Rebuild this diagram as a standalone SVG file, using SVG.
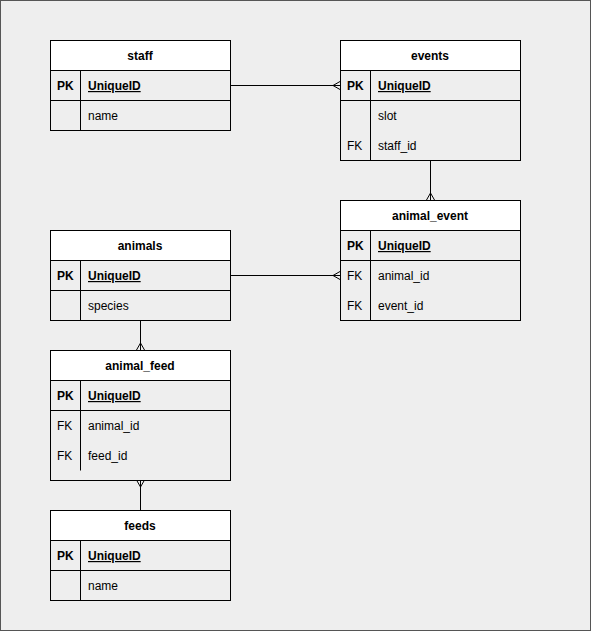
<svg xmlns="http://www.w3.org/2000/svg" width="591" height="631" viewBox="0 0 591 631">
<style>
.box{fill:none;stroke:#000;stroke-width:1}
.hdr{fill:#fff;stroke:#000;stroke-width:1}
.ln{stroke:#000;stroke-width:1;fill:none}
text{font-family:"Liberation Sans",Arial,sans-serif;font-size:12px;fill:#000}
.t{font-weight:bold;text-anchor:middle}
.b{font-weight:bold}
.u{font-weight:bold;text-decoration:underline}
</style>
<defs>
<marker id="many" viewBox="0 0 10 10" refX="10" refY="5" markerWidth="10" markerHeight="10" markerUnits="userSpaceOnUse" orient="auto">
<path d="M10,1 L3,5 L10,9" fill="none" stroke="#000" stroke-width="1"/>
</marker>
</defs>
<rect x="0.5" y="0.5" width="590" height="630" fill="#eeeeee" stroke="#555" stroke-width="1"/>
<g id="connectors">
<line class="ln" x1="230" y1="85.5" x2="340" y2="85.5" marker-end="url(#many)"/>
<line class="ln" x1="430.5" y1="160" x2="430.5" y2="200" marker-end="url(#many)"/>
<line class="ln" x1="230" y1="275.5" x2="340" y2="275.5" marker-end="url(#many)"/>
<line class="ln" x1="140.5" y1="320" x2="140.5" y2="350" marker-end="url(#many)"/>
<line class="ln" x1="140.5" y1="510" x2="140.5" y2="480" marker-end="url(#many)"/>
</g>
<g id="staff">
<rect class="hdr" x="50.5" y="40.5" width="180" height="30"/>
<rect class="box" x="50.5" y="40.5" width="180" height="90"/>
<line class="ln" x1="50.5" y1="100.5" x2="230.5" y2="100.5"/>
<line class="ln" x1="80.5" y1="70.5" x2="80.5" y2="130.5"/>
<text class="t" x="140" y="60">staff</text>
<text class="b" x="57" y="90">PK</text>
<text class="u" x="88" y="90">UniqueID</text>
<text x="88" y="120">name</text>
</g>
<g id="events">
<rect class="hdr" x="340.5" y="40.5" width="180" height="30"/>
<rect class="box" x="340.5" y="40.5" width="180" height="120"/>
<line class="ln" x1="340.5" y1="100.5" x2="520.5" y2="100.5"/>
<line class="ln" x1="370.5" y1="70.5" x2="370.5" y2="160.5"/>
<text class="t" x="430" y="60">events</text>
<text class="b" x="347" y="90">PK</text>
<text class="u" x="378" y="90">UniqueID</text>
<text x="378" y="120">slot</text>
<text x="347" y="150">FK</text>
<text x="378" y="150">staff_id</text>
</g>
<g id="animal_event">
<rect class="hdr" x="340.5" y="200.5" width="180" height="30"/>
<rect class="box" x="340.5" y="200.5" width="180" height="120"/>
<line class="ln" x1="340.5" y1="260.5" x2="520.5" y2="260.5"/>
<line class="ln" x1="370.5" y1="230.5" x2="370.5" y2="320.5"/>
<text class="t" x="430" y="220">animal_event</text>
<text class="b" x="347" y="250">PK</text>
<text class="u" x="378" y="250">UniqueID</text>
<text x="347" y="280">FK</text>
<text x="378" y="280">animal_id</text>
<text x="347" y="310">FK</text>
<text x="378" y="310">event_id</text>
</g>
<g id="animals">
<rect class="hdr" x="50.5" y="230.5" width="180" height="30"/>
<rect class="box" x="50.5" y="230.5" width="180" height="90"/>
<line class="ln" x1="50.5" y1="290.5" x2="230.5" y2="290.5"/>
<line class="ln" x1="80.5" y1="260.5" x2="80.5" y2="320.5"/>
<text class="t" x="140" y="250">animals</text>
<text class="b" x="57" y="280">PK</text>
<text class="u" x="88" y="280">UniqueID</text>
<text x="88" y="310">species</text>
</g>
<g id="animal_feed">
<rect class="hdr" x="50.5" y="350.5" width="180" height="30"/>
<rect class="box" x="50.5" y="350.5" width="180" height="130"/>
<line class="ln" x1="50.5" y1="410.5" x2="230.5" y2="410.5"/>
<line class="ln" x1="80.5" y1="380.5" x2="80.5" y2="470.5"/>
<text class="t" x="140" y="370">animal_feed</text>
<text class="b" x="57" y="400">PK</text>
<text class="u" x="88" y="400">UniqueID</text>
<text x="57" y="430">FK</text>
<text x="88" y="430">animal_id</text>
<text x="57" y="460">FK</text>
<text x="88" y="460">feed_id</text>
</g>
<g id="feeds">
<rect class="hdr" x="50.5" y="510.5" width="180" height="30"/>
<rect class="box" x="50.5" y="510.5" width="180" height="90"/>
<line class="ln" x1="50.5" y1="570.5" x2="230.5" y2="570.5"/>
<line class="ln" x1="80.5" y1="540.5" x2="80.5" y2="600.5"/>
<text class="t" x="140" y="530">feeds</text>
<text class="b" x="57" y="560">PK</text>
<text class="u" x="88" y="560">UniqueID</text>
<text x="88" y="590">name</text>
</g>
</svg>
